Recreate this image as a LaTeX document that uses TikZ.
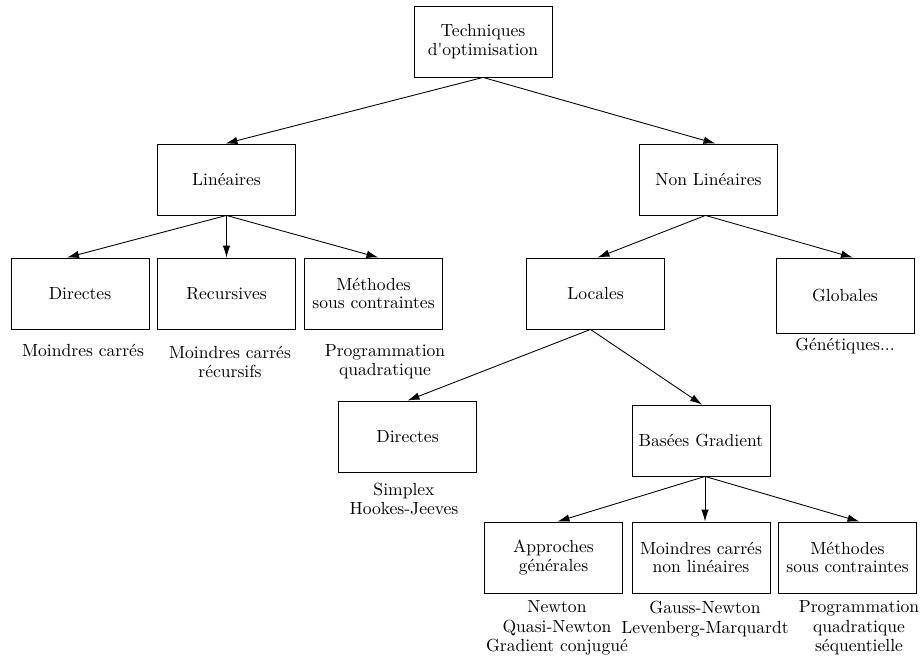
\documentclass[tikz,border=0pt]{standalone}
\usepackage{tikz}
\usetikzlibrary{arrows.meta, positioning}

\begin{document}
\begin{tikzpicture}[x=0.02cm, y=-0.02cm,
    box/.style={draw, line width=0.5pt, minimum width=2.76cm, minimum height=1.42cm,
                align=center, font=\fontsize{10}{10.5}\selectfont},
    lbl/.style={align=center, font=\fontsize{10}{11}\selectfont},
    arr/.style={-{Latex[length=2.4mm, width=1.5mm]}, line width=0.5pt}]
  \useasboundingbox (0,0) rectangle (920,663);
  % boxes
  \node[box] (techn) at (483,41.5) {Techniques\\d\textquotesingle optimisation};
  \node[box] (lin) at (226.5,179.5) {Linéaires};
  \node[box] (nonlin) at (708.5,179.5) {Non Linéaires};
  \node[box] (dirA) at (80,293.5) {Directes};
  \node[box] (rec) at (226.5,293.5) {Recursives};
  \node[box] (methA) at (373.5,293.5) {Méthodes\\sous contraintes};
  \node[box] (loc) at (595.5,293.5) {Locales};
  \node[box, minimum height=1.5cm] (glob) at (845,295.5) {Globales};
  \node[box] (dirB) at (407.5,436.5) {Directes};
  \node[box] (grad) at (701,440.5) {Basées Gradient};
  \node[box] (appr) at (553.5,557.5) {Approches\\générales};
  \node[box] (mcnl) at (701,557.5) {Moindres carrés\\non linéaires};
  \node[box] (methB) at (847.5,557.5) {Méthodes\\sous contraintes};
  % texts under the boxes
  \node[lbl] (dirAtxt) at (83,350) {Moindres carrés};
  \node[lbl] (rectxt) at (230,362) {Moindres carrés\\récursifs};
  \node[lbl] (methAtxt) at (385,362) {Programmation\\quadratique};
  \node[lbl] (globtxt) at (845,346) {Génétiques...};
  \node[lbl] (dirBtxt) at (404,499) {Simplex\\Hookes-Jeeves};
  \node[lbl] (apprtxt) at (557,628) {Newton\\Quasi-Newton\\Gradient conjugué};
  \node[lbl] (mcnltxt) at (705,619) {Gauss-Newton\\Levenberg-Marquardt};
  \node[lbl] (methBtxt) at (859,628) {Programmation\\quadratique\\séquentielle};
  % connectors (shifts in px along the box edges)
  \foreach \from/\fs/\to/\ts in {techn/0/lin/-1, techn/0/nonlin/7,
    lin/0/dirA/-13, lin/0/rec/0, lin/0/methA/5,
    nonlin/-3/loc/2, nonlin/-3/glob/8,
    loc/-5/dirB/0, loc/-5/grad/1,
    grad/4/appr/4, grad/4/mcnl/4, grad/4/methB/12}
    \draw[arr] ([xshift=\fs*0.02cm]\from.south) -- ([xshift=\ts*0.02cm]\to.north);
\end{tikzpicture}
\end{document}
